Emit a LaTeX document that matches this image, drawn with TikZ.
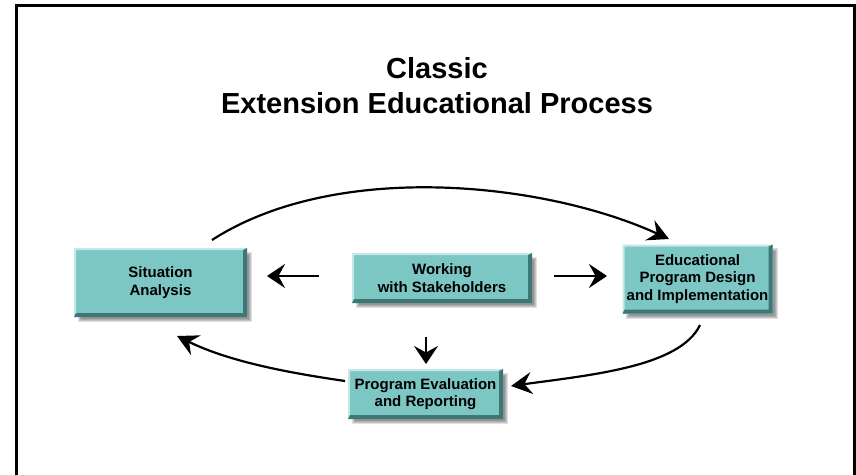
\documentclass[tikz,border=0pt]{standalone}
\usepackage{fontspec}
\setmainfont{Liberation Sans}
\usetikzlibrary{arrows.meta,backgrounds}

\definecolor{boxteal}{RGB}{124,198,196}
\definecolor{boxlight}{RGB}{196,232,230}
\definecolor{boxdark}{RGB}{62,120,118}

\newcommand\ppb{path picture bounding box}

\tikzset{
  stagebox/.style={
    fill=boxteal, inner sep=0pt, align=center,
    font=\fontsize{15}{17.5}\selectfont\bfseries,
    path picture={
      % light bevel on the top and left edges
      \fill[boxlight] (\ppb.north west) -- (\ppb.north east)
        -- ([shift={(-3pt,-2pt)}]\ppb.north east)
        -- ([shift={(2pt,-2pt)}]\ppb.north west)
        -- ([shift={(2pt,4pt)}]\ppb.south west)
        -- (\ppb.south west) -- cycle;
      % dark bevel on the bottom and right edges
      \fill[boxdark] (\ppb.south east) -- (\ppb.north east)
        -- ([shift={(-4pt,-2pt)}]\ppb.north east)
        -- ([shift={(-4pt,4pt)}]\ppb.south east)
        -- ([shift={(2pt,4pt)}]\ppb.south west)
        -- (\ppb.south west) -- cycle;
    }},
  flowarrow/.style={line width=2.6pt,
    -{Stealth[length=18pt,width=24pt,inset=6.5pt]}},
  cyclearrow/.style={line width=2.2pt,
    -{Stealth[length=21pt,width=22pt,inset=7.5pt]}},
  titletext/.style={font=\fontsize{29}{35}\selectfont\bfseries, align=center},
}

% soft drop shadow behind a box
\newcommand\castshadow[1]{%
  \foreach \s in {0,1,2,3}{%
    \fill[black,opacity=0.12]
      ([xshift={(7-\s)*1pt},yshift={-(7-\s)*1pt}]#1.north west)
      rectangle ([xshift={(2+\s)*1pt},yshift={-(2+\s)*1pt}]#1.south east);
  }}

\begin{document}
\begin{tikzpicture}[x=1pt,y=-1pt]
  \useasboundingbox (0,0) rectangle (856,474);
  \begin{scope}[on background layer]
    \fill[white] (0,0) rectangle (856,474);
  \end{scope}
  \clip (0,0) rectangle (856,474);

  % outer frame, open at the bottom
  \draw[line width=3pt] (16.5,480) -- (16.5,5.5) -- (854.5,5.5) -- (854.5,480);

  % title
  \node[titletext] (title) at (437,86) {Classic\\Extension Educational Process};

  % stages
  \node[stagebox, minimum width=173pt, minimum height=69pt] (sit) at (160.5,282.5)
    {Situation\\Analysis};
  \node[stagebox, minimum width=180pt, minimum height=50pt] (work) at (442,278)
    {Working\\with Stakeholders};
  \node[stagebox, minimum width=150pt, minimum height=69pt] (edu) at (697.5,279)
    {Educational\\Program Design\\and Implementation};
  \node[stagebox, minimum width=155pt, minimum height=50pt] (eval) at (425.5,394)
    {Program Evaluation\\and Reporting};

  \begin{scope}[on background layer]
    \castshadow{sit}
    \castshadow{work}
    \castshadow{edu}
    \castshadow{eval}
  \end{scope}

  % connector end points
  \coordinate (workL) at (319,276);
  \coordinate (sitR)  at (267,276);
  \coordinate (workR) at (554,276);
  \coordinate (eduL)  at (607,276);
  \coordinate (workD) at (426,337);
  \coordinate (evalU) at (426,364);
  \coordinate (sitTop) at (212,240);
  \coordinate (eduTop) at (669,239);
  \coordinate (eduBot) at (700,325);
  \coordinate (evalR)  at (511,386);
  \coordinate (evalL)  at (345,381);
  \coordinate (sitBot) at (177,336);

  % stakeholder arrows
  \draw[flowarrow] (workL) -- (sitR);
  \draw[flowarrow] (workR) -- (eduL);
  \draw[flowarrow] (workD) -- (evalU);

  % the cycle
  \draw[cyclearrow] (sitTop) .. controls (336,160) and (544,182) .. (eduTop);
  \draw[cyclearrow] (eduBot) .. controls (680,367) and (590,375) .. (evalR);
  \draw[cyclearrow] (evalL) .. controls (290,373) and (230,362) .. (sitBot);
\end{tikzpicture}
\end{document}
